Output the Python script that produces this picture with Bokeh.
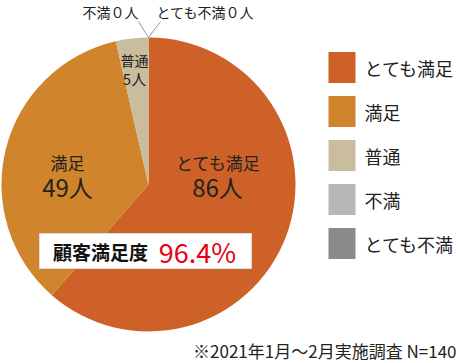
import math
from bokeh.plotting import figure
from bokeh.models import ColumnDataSource
from bokeh.core.properties import value
from bokeh.embed import file_html
from bokeh.resources import INLINE

categories = ["とても満足", "満足", "普通", "不満", "とても不満"]
counts = [86, 49, 5, 0, 0]
colors = ["#CD6127", "#D0842B", "#C9BD9E", "#B6B7B7", "#8A8A8A"]
satisfaction = "96.4%"
note = "※2021年1月～2月実施調査 N=140"

FONT = value("Noto Sans CJK JP")
W, H = 460, 363

def Y(py):
    return H - py

p = figure(width=W, height=H, x_range=(0, W), y_range=(0, H),
           output_backend="svg", toolbar_location=None, min_border=0)
p.axis.visible = False
p.grid.visible = False
p.outline_line_color = None
p.background_fill_color = "white"
p.border_fill_color = "white"

# pie (zero slices have no area, so they are skipped)
total = sum(counts)
cx, cy, r = 148, Y(184), 147
starts, ends, cols, cats = [], [], [], []
acc = 0
for c, col, cat in zip(counts, colors, categories):
    s = math.pi / 2 - 2 * math.pi * acc / total
    acc += c
    e = math.pi / 2 - 2 * math.pi * acc / total
    if c > 0:
        starts.append(s); ends.append(e); cols.append(col); cats.append(cat)
src = ColumnDataSource(dict(start=starts, end=ends, color=cols, cat=cats))
p.wedge(x=cx, y=cy, radius=r, start_angle="start", end_angle="end",
        direction="clock", fill_color="color", line_color=None, source=src)

# leader lines for zero slices
p.segment(x0=[148, 148], y0=[Y(37), Y(37)], x1=[138, 160], y1=[Y(21), Y(21)],
          line_color="#9a9a9a", line_width=1)

def z2f(n):
    return str(n).translate(str.maketrans("0123456789", "０１２３４５６７８９"))

# slice labels
p.text(x=[218], y=[Y(162)], text=[categories[0]], text_font=FONT, text_font_size="17px",
       text_align="center", text_baseline="middle", text_color="#222")
p.text(x=[217], y=[Y(186)], text=[f"{counts[0]}人"], text_font=FONT, text_font_size="24px",
       text_align="center", text_baseline="middle", text_color="#222")
p.text(x=[67], y=[Y(162)], text=[categories[1]], text_font=FONT, text_font_size="17px",
       text_align="center", text_baseline="middle", text_color="#222")
p.text(x=[67], y=[Y(186)], text=[f"{counts[1]}人"], text_font=FONT, text_font_size="24px",
       text_align="center", text_baseline="middle", text_color="#222")
p.text(x=[134], y=[Y(59)], text=[categories[2]], text_font=FONT, text_font_size="14px",
       text_align="center", text_baseline="middle", text_color="#222")
p.text(x=[134], y=[Y(78)], text=[f"{counts[2]}人"], text_font=FONT, text_font_size="15px",
       text_align="center", text_baseline="middle", text_color="#222")
p.text(x=[110, 205], y=[Y(11), Y(11)],
       text=[f"{categories[3]}{z2f(counts[3])}人", f"{categories[4]}{z2f(counts[4])}人"],
       text_font=FONT, text_font_size="14px", text_align="center",
       text_baseline="middle", text_color="#222")

# satisfaction box
p.rect(x=[145], y=[Y(250.5)], width=[212], height=[35], fill_color="white",
       line_color="#dddddd", line_width=1)
p.text(x=[100], y=[Y(251)], text=["顧客満足度"], text_font=FONT, text_font_size="19px",
       text_font_style="bold", text_align="center", text_baseline="middle", text_color="#111")
p.text(x=[197], y=[Y(251)], text=[satisfaction], text_font=FONT, text_font_size="27px",
       text_align="center", text_baseline="middle", text_color="#E60012")

# legend
leg_y = [Y(67 + 44 * i) for i in range(len(categories))]
p.rect(x=[341.5] * len(categories), y=leg_y, width=27, height=31,
       width_units="screen", height_units="screen",
       fill_color=colors, line_color=None)
p.text(x=[364] * len(categories), y=leg_y, text=categories, text_font=FONT,
       text_font_size="18px", text_align="left", text_baseline="middle", text_color="#222")

# note
p.text(x=[456], y=[Y(350)], text=[note], text_font=FONT, text_font_size="17px",
       text_align="right", text_baseline="middle", text_color="#222")

open("out.html", "w").write(file_html(p, INLINE))
